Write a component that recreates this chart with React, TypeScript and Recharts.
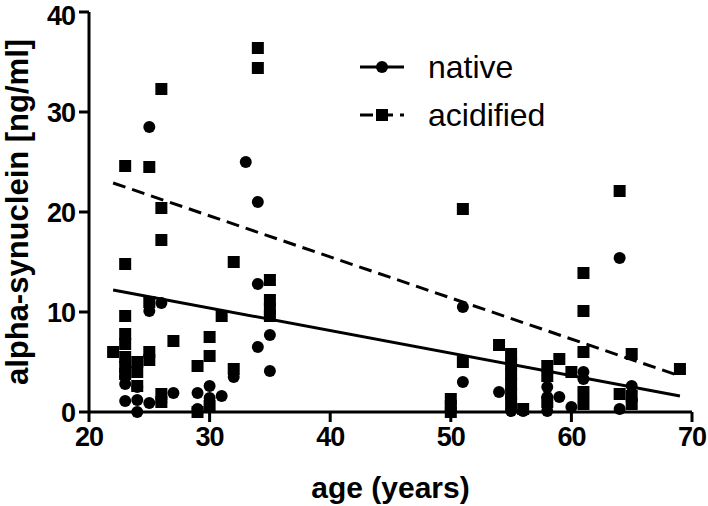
import React from 'react';
import {
  ScatterChart,
  Scatter,
  XAxis,
  YAxis,
  Legend,
} from 'recharts';

const FONT = '"Liberation Sans", Arial, sans-serif';

// age ticks / alpha-synuclein ticks
const ageTicks = [20, 30, 40, 50, 60, 70];
const synTicks = [0, 10, 20, 30, 40];

// native samples: [age, ng/ml]
const nativePoints: [number, number][] = [
  [23, 1.1], [23, 2.8], [23, 3.5],
  [24, 0.0], [24, 1.2], [24, 2.5],
  [25, 28.5], [25, 10.1], [25, 0.9],
  [26, 10.9], [26, 1.0],
  [27, 1.9],
  [29, 1.9], [29, 0.3],
  [30, 2.6], [30, 1.4],
  [31, 1.6],
  [32, 3.5],
  [33, 25.0],
  [34, 21.0], [34, 12.8], [34, 6.5],
  [35, 7.7], [35, 4.1],
  [51, 10.5], [51, 3.0],
  [54, 2.0],
  [55, 1.5], [55, 0.1],
  [56, 0.1],
  [58, 2.5], [58, 1.5], [58, 0.1],
  [59, 1.5],
  [60, 0.5],
  [61, 4.0], [61, 3.3],
  [64, 15.4], [64, 0.3],
  [65, 2.6],
];

// acidified samples: [age, ng/ml]
const acidPoints: [number, number][] = [
  [22, 6.0],
  [23, 24.6], [23, 14.8], [23, 9.6], [23, 7.8], [23, 6.8], [23, 5.5], [23, 4.5], [23, 3.8],
  [24, 5.0], [24, 4.0], [24, 2.6],
  [25, 24.5], [25, 11.0], [25, 6.0], [25, 5.2],
  [26, 32.3], [26, 20.4], [26, 17.2], [26, 1.8], [26, 1.0],
  [27, 7.1],
  [29, 4.6], [29, 0.0],
  [30, 7.5], [30, 5.6], [30, 0.6],
  [31, 9.6],
  [32, 15.0], [32, 4.3],
  [34, 36.4], [34, 34.4],
  [35, 13.2], [35, 11.2], [35, 10.3], [35, 9.6],
  [50, 1.3], [50, 0.6], [50, 0.0],
  [51, 20.3], [51, 5.0],
  [54, 6.7],
  [55, 5.8], [55, 4.8], [55, 3.8], [55, 2.8], [55, 1.8], [55, 0.8],
  [56, 0.3],
  [58, 4.6], [58, 3.6], [58, 1.0],
  [59, 5.3],
  [60, 4.0],
  [61, 13.9], [61, 10.1], [61, 6.0], [61, 2.0], [61, 0.8],
  [64, 22.1], [64, 1.8],
  [65, 5.8], [65, 1.6], [65, 0.8],
  [69, 4.3],
];

// linear regression end points
const nativeFit: [number, number][] = [[22, 12.2], [69, 1.6]];
const acidFit: [number, number][] = [[22, 22.9], [69, 3.6]];

const toRows = (pts: [number, number][]) => pts.map(([age, syn]) => ({ age, syn }));

const Dot = (p: any) => <circle cx={p.cx} cy={p.cy} r={6} fill="#000" />;
const Square = (p: any) => <rect x={p.cx - 6} y={p.cy - 6} width={12} height={12} fill="#000" />;
const NoShape = () => <g />;

function LegendBox() {
  return (
    <svg width={260} height={100}>
      <line x1={5} y1={19} x2={49} y2={19} stroke="#000" strokeWidth={3} />
      <circle cx={27} cy={19} r={6} fill="#000" />
      <text x={73} y={30} fontSize={32} fontFamily={FONT} fill="#000">native</text>
      <line x1={5} y1={67} x2={49} y2={67} stroke="#000" strokeWidth={3} strokeDasharray="13 7" />
      <rect x={21} y={61} width={12} height={12} fill="#000" />
      <text x={73} y={78} fontSize={32} fontFamily={FONT} fill="#000">acidified</text>
    </svg>
  );
}

const tickStyle = { fill: '#000', fontSize: 27, fontWeight: 'bold', fontFamily: FONT, letterSpacing: -1 };
const axisStroke = { stroke: '#000', strokeWidth: 3 };

export default function App() {
  return (
    <div style={{ position: 'absolute', left: 0, top: 0, background: '#fff' }}>
      <ScatterChart width={708} height={506} margin={{ top: 12, right: 16, bottom: 0, left: 0 }}>
        <XAxis
          type="number"
          dataKey="age"
          domain={[20, 70]}
          ticks={ageTicks}
          height={94}
          tickSize={10}
          tickMargin={5}
          tick={tickStyle}
          axisLine={axisStroke}
          tickLine={axisStroke}
          label={{
            content: ({ viewBox }: any) => (
              <text
                x={viewBox.x + viewBox.width / 2}
                y={498}
                textAnchor="middle"
                fontSize={30}
                fontWeight="bold"
                fontFamily={FONT}
                fill="#000"
              >
                age (years)
              </text>
            ),
          }}
        />
        <YAxis
          type="number"
          dataKey="syn"
          domain={[0, 40]}
          ticks={synTicks}
          width={89}
          tickSize={10}
          tickMargin={4}
          tick={tickStyle}
          axisLine={axisStroke}
          tickLine={axisStroke}
          label={{
            content: () => (
              <text
                x={28}
                y={212}
                transform="rotate(-90 28 212)"
                textAnchor="middle"
                fontSize={31}
                fontWeight="bold"
                fontFamily={FONT}
                fill="#000"
              >
                alpha-synuclein [ng/ml]
              </text>
            ),
          }}
        />
        <Legend
          layout="vertical"
          align="center"
          verticalAlign="middle"
          wrapperStyle={{ left: 355, top: 48, width: 260, height: 100 }}
          content={() => <LegendBox />}
        />
        <Scatter
          name="native fit"
          data={toRows(nativeFit)}
          line={{ stroke: '#000', strokeWidth: 3 }}
          shape={NoShape}
          legendType="none"
          isAnimationActive={false}
        />
        <Scatter
          name="acidified fit"
          data={toRows(acidFit)}
          line={{ stroke: '#000', strokeWidth: 3, strokeDasharray: '13 7' }}
          shape={NoShape}
          legendType="none"
          isAnimationActive={false}
        />
        <Scatter name="native" data={toRows(nativePoints)} shape={Dot} isAnimationActive={false} />
        <Scatter name="acidified" data={toRows(acidPoints)} shape={Square} isAnimationActive={false} />
      </ScatterChart>
    </div>
  );
}
